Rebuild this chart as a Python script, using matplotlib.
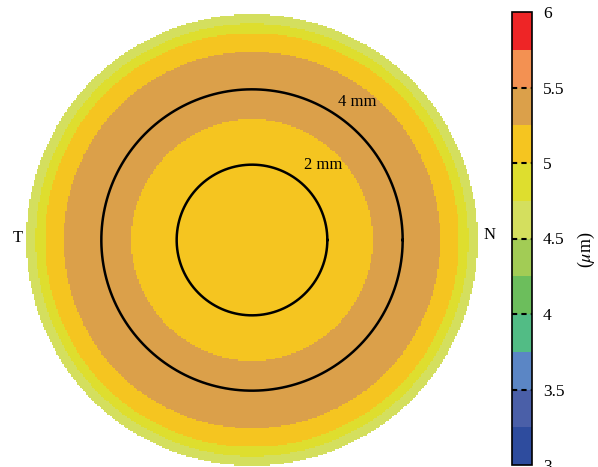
import matplotlib
matplotlib.use("Agg")
import matplotlib.pyplot as plt
import numpy as np
from matplotlib.colors import ListedColormap, BoundaryNorm

plt.rcParams["font.family"] = ["Liberation Serif", "DejaVu Serif"]
plt.rcParams["mathtext.fontset"] = "stix"

# colour scale (um), 0.25 steps
levels = [3.0, 3.25, 3.5, 3.75, 4.0, 4.25, 4.5, 4.75, 5.0, 5.25, 5.5, 5.75, 6.0]
colors = ["#2e4c9e", "#4a5fa8", "#5b86c5", "#52bc85", "#6cbe5c", "#a2cc55",
          "#d4df5e", "#dede2e", "#f5c520", "#dba04a", "#f39152", "#ee2526"]
tick_values = [3, 3.5, 4, 4.5, 5, 5.5, 6]
tick_labels = ["3", "3.5", "4", "4.5", "5", "5.5", "6"]

# ring outer radius (mm) and thickness value (um), from outside in
ring_radius = [3.0, 2.875, 2.75, 2.5, 1.6]
ring_value = [4.6, 4.9, 5.1, 5.4, 5.1]

# reference circles (diameter in mm)
circle_diam = [2, 4]

cmap = ListedColormap(colors)
norm = BoundaryNorm(levels, cmap.N)

fig = plt.figure(figsize=(5.98, 4.67), dpi=100)
ax = fig.add_axes([26 / 598, 1 / 467, 452 / 598, 452 / 467])

n = 300
xs = np.linspace(-3, 3, n + 1)
xc = 0.5 * (xs[:-1] + xs[1:])
X, Y = np.meshgrid(xc, xc)
R = np.hypot(X, Y)
Z = np.full(R.shape, np.nan)
for rad, val in zip(ring_radius, ring_value):
    Z[R <= rad] = val
Z = np.ma.masked_invalid(Z)
ax.pcolormesh(xs, xs, Z, cmap=cmap, norm=norm)

t = np.linspace(0, 2 * np.pi, 400)
for d in circle_diam:
    ax.plot(d / 2 * np.cos(t), d / 2 * np.sin(t), color="black", lw=1.8)

ax.text(1.4, 1.83, "4 mm", fontsize=12, ha="center", va="center")
ax.text(0.95, 0.99, "2 mm", fontsize=12, ha="center", va="center")
ax.set_xlim(-3, 3)
ax.set_ylim(-3, 3)
ax.set_aspect("equal")
ax.axis("off")

fig.text(18 / 598, 1 - 238 / 467, "T", fontsize=12, ha="center", va="center")
fig.text(490 / 598, 1 - 235 / 467, "N", fontsize=12, ha="center", va="center")

cax = fig.add_axes([512 / 598, 2 / 467, 20 / 598, 453 / 467])
cb = fig.colorbar(plt.cm.ScalarMappable(norm=norm, cmap=cmap), cax=cax,
                  ticks=tick_values)
cb.minorticks_off()
cb.ax.set_yticklabels(tick_labels, fontsize=12.5)
cb.ax.tick_params(length=0, pad=8)
cb.outline.set_linewidth(1.2)
cax.hlines(tick_values[1:-1], 0, 1, transform=cax.get_yaxis_transform(),
           colors="black", linestyles=(0, (2.5, 2)), lw=1.5)
fig.text(586 / 598, 1 - 250 / 467, r"($\mu$m)", fontsize=13, rotation=90,
         ha="center", va="center")

fig.savefig("out.png", dpi=100)
